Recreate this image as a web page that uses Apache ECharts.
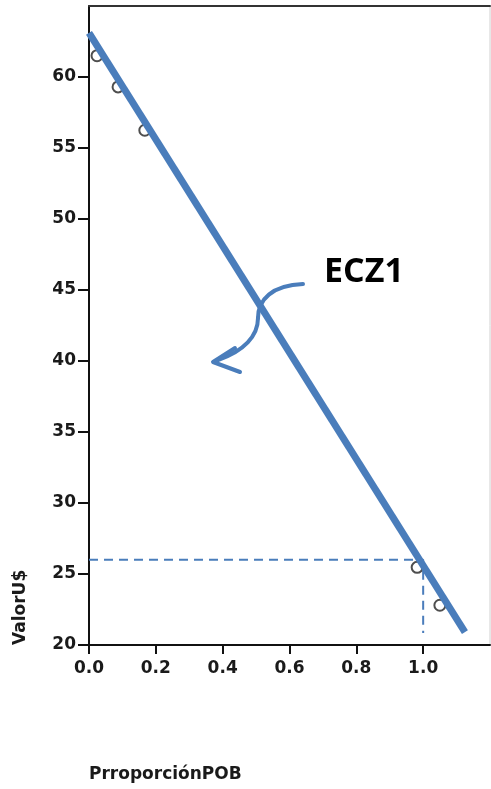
<!DOCTYPE html>
<html><head><meta charset="utf-8">
<script src="https://cdn.jsdelivr.net/npm/echarts@6/dist/echarts.min.js"></script>
<style>html,body{margin:0;padding:0;background:#fff}#c{width:491px;height:789px}</style>
</head><body><div id="c"></div>
<script>
const xTicks = [0.0, 0.2, 0.4, 0.6, 0.8, 1.0];
const yTicks = [20, 25, 30, 35, 40, 45, 50, 55, 60];
const pointsX = [0.024, 0.087, 0.167, 0.982, 1.05];
const pointsY = [61.5, 59.3, 56.25, 25.47, 22.8];
const fitX = [0.0, 1.125];
const fitY = [63.1, 20.9];
const guideX = [0.0, 1.0, 1.0];
const guideY = [26.0, 26.0, 20.85];
const xName = 'PrroporciónPOB';
const yName = 'ValorU$';
const note = 'ECZ1';

const blue = '#4a7dbb';
const chart = echarts.init(document.getElementById('c'));
const font = 'DejaVu Sans';
chart.setOption({
  animation: false,
  grid: {left: 89, top: 6, right: 1, bottom: 144, show: true, borderColor: '#d0d0d0', borderWidth: 1},
  xAxis: [{
    type: 'value', min: 0, max: 1.2, interval: 0.2,
    axisLine: {show: true, lineStyle: {color: '#111', width: 2}},
    axisTick: {show: true, length: 9, lineStyle: {color: '#111', width: 2}},
    axisLabel: {margin: 15, color: '#1a1a1a', fontFamily: font, fontWeight: 'bold', fontSize: 17,
      showMaxLabel: false, formatter: v => v.toFixed(1)},
    splitLine: {show: false}
  }, {
    type: 'value', position: 'top', min: 0, max: 1.2,
    axisLine: {show: true, onZero: false, lineStyle: {color: '#333', width: 2}},
    axisTick: {show: false}, axisLabel: {show: false}, splitLine: {show: false}
  }],
  yAxis: {
    type: 'value', min: 20, max: 65, interval: 5,
    axisLine: {show: true, lineStyle: {color: '#111', width: 2}},
    axisTick: {show: true, length: 11, lineStyle: {color: '#111', width: 2}},
    axisLabel: {margin: 13, color: '#1a1a1a', fontFamily: font, fontWeight: 'bold', fontSize: 17, showMaxLabel: false},
    splitLine: {show: false}
  },
  series: [
    {type: 'line', data: guideX.map((x, i) => [x, guideY[i]]), symbol: 'none', z: 2,
      lineStyle: {color: blue, width: 2, type: [9, 6]}},
    {type: 'scatter', data: pointsX.map((x, i) => [x, pointsY[i]]), symbol: 'circle', symbolSize: 11, z: 3,
      itemStyle: {color: '#fff', borderColor: '#222', borderWidth: 2}},
    {type: 'line', data: fitX.map((x, i) => [x, fitY[i]]), symbol: 'none', z: 4,
      lineStyle: {color: blue, width: 7, cap: 'butt'}}
  ],
  graphic: [
    {type: 'text', left: 324, top: 255, style: {text: note, font: 'bold 34px "Open Sans"', fill: '#000'}},
    {type: 'bezierCurve', shape: {x1: 303, y1: 284, cpx1: 272, cpy1: 285, cpx2: 258, cpy2: 300, x2: 258, y2: 318},
      style: {stroke: blue, lineWidth: 4, fill: null, lineCap: 'round'}},
    {type: 'bezierCurve', shape: {x1: 258, y1: 318, cpx1: 258, cpy1: 336, cpx2: 244, cpy2: 351, x2: 218, y2: 360},
      style: {stroke: blue, lineWidth: 4, fill: null, lineCap: 'round'}},
    {type: 'polyline', shape: {points: [[235, 348], [213, 362], [240, 372]]},
      style: {stroke: blue, lineWidth: 4, fill: null, lineCap: 'round', lineJoin: 'round'}},
    {type: 'text', x: 89, y: 766, style: {text: xName, font: 'bold 17px "DejaVu Sans"', fill: '#1a1a1a'}},
    {type: 'text', x: 12, y: 645, rotation: Math.PI / 2, style: {text: yName, font: 'bold 17px "DejaVu Sans"', fill: '#1a1a1a', textVerticalAlign: 'top'}}
  ]
});
</script></body></html>
